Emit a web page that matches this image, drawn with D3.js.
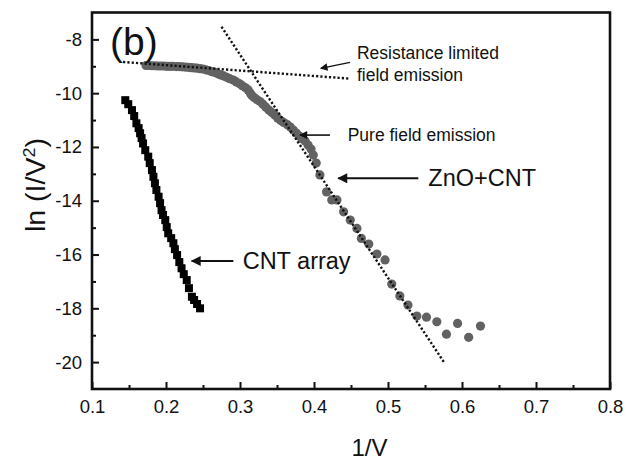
<!DOCTYPE html>
<html>
<head>
<meta charset="utf-8">
<script src="https://cdn.jsdelivr.net/npm/d3@7"></script>
<style>
  body { margin: 0; background: #fff; }
  text { font-family: "Liberation Sans", Arial, sans-serif; fill: #111; }
</style>
</head>
<body>
<div id="chart"></div>
<script>
// CNT array (black squares)
var cntX = [0.145, 0.149, 0.154, 0.157, 0.160, 0.163, 0.165, 0.167, 0.169, 0.172,
            0.176, 0.178, 0.181, 0.183, 0.185, 0.187, 0.190, 0.192, 0.194, 0.196,
            0.199, 0.201, 0.203, 0.207, 0.210, 0.212, 0.215, 0.218, 0.221, 0.224,
            0.228, 0.231, 0.235, 0.238, 0.242, 0.246];
var cntY = [-10.26, -10.41, -10.63, -10.85, -11.12, -11.30, -11.49, -11.67, -11.87, -12.12,
            -12.36, -12.60, -12.86, -13.11, -13.35, -13.60, -13.85, -14.09, -14.35, -14.53,
            -14.72, -14.98, -15.21, -15.39, -15.58, -15.80, -16.02, -16.28, -16.51, -16.73,
            -16.95, -17.25, -17.57, -17.69, -17.84, -18.00];

// ZnO+CNT (grey circles)
var zncX = [0.173, 0.177, 0.181, 0.185, 0.189, 0.193, 0.197, 0.201, 0.205, 0.209,
            0.214, 0.218, 0.222, 0.226, 0.230, 0.234, 0.238, 0.242, 0.246, 0.250,
            0.254, 0.258, 0.262, 0.266, 0.270, 0.274, 0.278, 0.282, 0.286, 0.291,
            0.295, 0.299, 0.303, 0.307, 0.311, 0.314, 0.316, 0.319, 0.323, 0.327,
            0.331, 0.335, 0.339, 0.343, 0.347, 0.351, 0.355, 0.359, 0.364, 0.368,
            0.372, 0.376, 0.380, 0.384, 0.388, 0.392, 0.396, 0.399, 0.403, 0.408,
            0.417, 0.424, 0.431, 0.440, 0.449, 0.458, 0.464, 0.474, 0.485, 0.496,
            0.505, 0.516, 0.527, 0.539, 0.552, 0.566, 0.579, 0.594, 0.609, 0.625];
var zncY = [-8.97, -8.97, -8.98, -8.98, -8.99, -8.99, -8.99, -9.00, -9.00, -9.00,
            -9.01, -9.01, -9.02, -9.03, -9.04, -9.05, -9.06, -9.07, -9.09, -9.10,
            -9.13, -9.16, -9.20, -9.23, -9.28, -9.32, -9.36, -9.41, -9.46, -9.51,
            -9.58, -9.64, -9.72, -9.79, -9.88, -10.00, -10.09, -10.16, -10.24, -10.31,
            -10.41, -10.52, -10.63, -10.72, -10.81, -10.93, -11.02, -11.09, -11.17, -11.26,
            -11.37, -11.48, -11.59, -11.69, -11.78, -11.93, -12.08, -12.30, -12.60, -13.04,
            -13.67, -13.97, -13.97, -14.41, -14.72, -15.03, -15.40, -15.61, -15.98, -16.20,
            -17.10, -17.54, -17.88, -18.29, -18.33, -18.50, -18.96, -18.56, -19.08, -18.66];

// dotted guide lines (end points)
var resistLine = [[0.142, -8.84], [0.449, -9.46]];
var pureLine = [[0.275, -7.53], [0.576, -20.02]];

var xTicks = [0.1, 0.2, 0.3, 0.4, 0.5, 0.6, 0.7, 0.8];
var xMinor = [0.15, 0.25, 0.35, 0.45, 0.55, 0.65, 0.75];
var yTicks = [-20, -18, -16, -14, -12, -10, -8];
var yMinor = [-19, -17, -15, -13, -11, -9];

var width = 633, height = 461;
var margin = {top: 12.5, right: 23, bottom: 72, left: 92};

var xScale = d3.scaleLinear().domain([0.1, 0.8]).range([margin.left, width - margin.right]);
var yScale = d3.scaleLinear().domain([-21, -7]).range([height - margin.bottom, margin.top]);

var svg = d3.select("#chart").append("svg")
    .attr("width", width)
    .attr("height", height);

// arrow head
svg.append("defs").append("marker")
    .attr("id", "head")
    .attr("viewBox", "0 0 10 10")
    .attr("refX", 9).attr("refY", 5)
    .attr("markerWidth", 6).attr("markerHeight", 5)
    .attr("markerUnits", "strokeWidth")
    .attr("orient", "auto")
  .append("path")
    .attr("d", "M0,0L10,5L0,10z")
    .attr("fill", "#111");

// grey circles
svg.append("g").selectAll("circle")
    .data(d3.zip(zncX, zncY))
    .enter().append("circle")
    .attr("cx", function(d) { return xScale(d[0]); })
    .attr("cy", function(d) { return yScale(d[1]); })
    .attr("r", 4.6)
    .attr("fill", "#626262");

// black squares
svg.append("g").selectAll("rect")
    .data(d3.zip(cntX, cntY))
    .enter().append("rect")
    .attr("x", function(d) { return xScale(d[0]) - 4; })
    .attr("y", function(d) { return yScale(d[1]) - 4; })
    .attr("width", 8)
    .attr("height", 8)
    .attr("fill", "#000");

// dotted lines
var line = d3.line()
    .x(function(d) { return xScale(d[0]); })
    .y(function(d) { return yScale(d[1]); });

[resistLine, pureLine].forEach(function(l) {
  svg.append("path")
      .attr("d", line(l))
      .attr("fill", "none")
      .attr("stroke", "#111")
      .attr("stroke-width", 2.4)
      .attr("stroke-dasharray", "2.2,2.1");
});

// axes (plain hyphen for negatives, like the original)
var xAxis = d3.axisBottom(xScale).tickValues(xTicks)
    .tickFormat(d3.format(".1f")).tickSizeInner(-7).tickSizeOuter(0).tickPadding(11);
var xAxisMinor = d3.axisBottom(xScale).tickValues(xMinor)
    .tickFormat("").tickSizeInner(-4).tickSizeOuter(0);
var yAxis = d3.axisLeft(yScale).tickValues(yTicks)
    .tickFormat(function(d) { return String(d); })
    .tickSizeInner(-7).tickSizeOuter(0).tickPadding(10);
var yAxisMinor = d3.axisLeft(yScale).tickValues(yMinor)
    .tickFormat("").tickSizeInner(-4).tickSizeOuter(0);

var gx = svg.append("g")
    .attr("transform", "translate(0," + (height - margin.bottom) + ")");
gx.call(xAxis);
gx.append("g").call(xAxisMinor);

var gy = svg.append("g")
    .attr("transform", "translate(" + margin.left + ",0)");
gy.call(yAxis);
gy.append("g").call(yAxisMinor);

svg.selectAll(".domain").remove();
svg.selectAll(".tick line").attr("stroke", "#111").attr("stroke-width", 2);
svg.selectAll(".tick text")
    .style("font-family", "'Liberation Sans', Arial, sans-serif")
    .style("font-size", "18.5px")
    .attr("fill", "#222");

// frame
svg.append("rect")
    .attr("x", xScale(0.1))
    .attr("y", yScale(-7))
    .attr("width", xScale(0.8) - xScale(0.1))
    .attr("height", yScale(-21) - yScale(-7))
    .attr("fill", "none")
    .attr("stroke", "#111")
    .attr("stroke-width", 2.6);

// axis titles
svg.append("text")
    .attr("x", xScale(0.475))
    .attr("y", 456)
    .attr("text-anchor", "middle")
    .style("font-size", "24px")
    .text("1/V");

var ytitle = svg.append("text")
    .attr("transform", "translate(45,185) rotate(-90)")
    .attr("text-anchor", "middle")
    .attr("textLength", 94)
    .attr("lengthAdjust", "spacingAndGlyphs")
    .style("font-size", "27px");
ytitle.append("tspan").text("ln (I/V");
ytitle.append("tspan").attr("dy", -10).style("font-size", "17px").text("2");
ytitle.append("tspan").attr("dy", 10).text(")");

// annotations
svg.append("text")
    .attr("x", xScale(0.1243)).attr("y", yScale(-8.58))
    .style("font-size", "39px")
    .text("(b)");

function label(x, y, size, str) {
  svg.append("text")
      .attr("x", xScale(x)).attr("y", yScale(y))
      .style("font-size", size)
      .text(str);
}
label(0.458, -8.74, "17.5px", "Resistance limited");
label(0.458, -9.55, "17.5px", "field emission");
label(0.4455, -11.77, "17.5px", "Pure field emission");
label(0.5545, -13.45, "23.5px", "ZnO+CNT");
label(0.3036, -16.52, "23.5px", "CNT array");

function arrow(x1, y1, x2, y2, w) {
  svg.append("line")
      .attr("x1", xScale(x1)).attr("y1", yScale(y1))
      .attr("x2", xScale(x2)).attr("y2", yScale(y2))
      .attr("stroke", "#111")
      .attr("stroke-width", w)
      .attr("marker-end", "url(#head)");
}
arrow(0.4486, -8.855, 0.4091, -9.078, 1.5);
arrow(0.4216, -11.558, 0.3811, -11.558, 1.6);
arrow(0.541, -13.167, 0.4328, -13.167, 2);
arrow(0.291, -16.24, 0.2347, -16.24, 2);
</script>
</body>
</html>
